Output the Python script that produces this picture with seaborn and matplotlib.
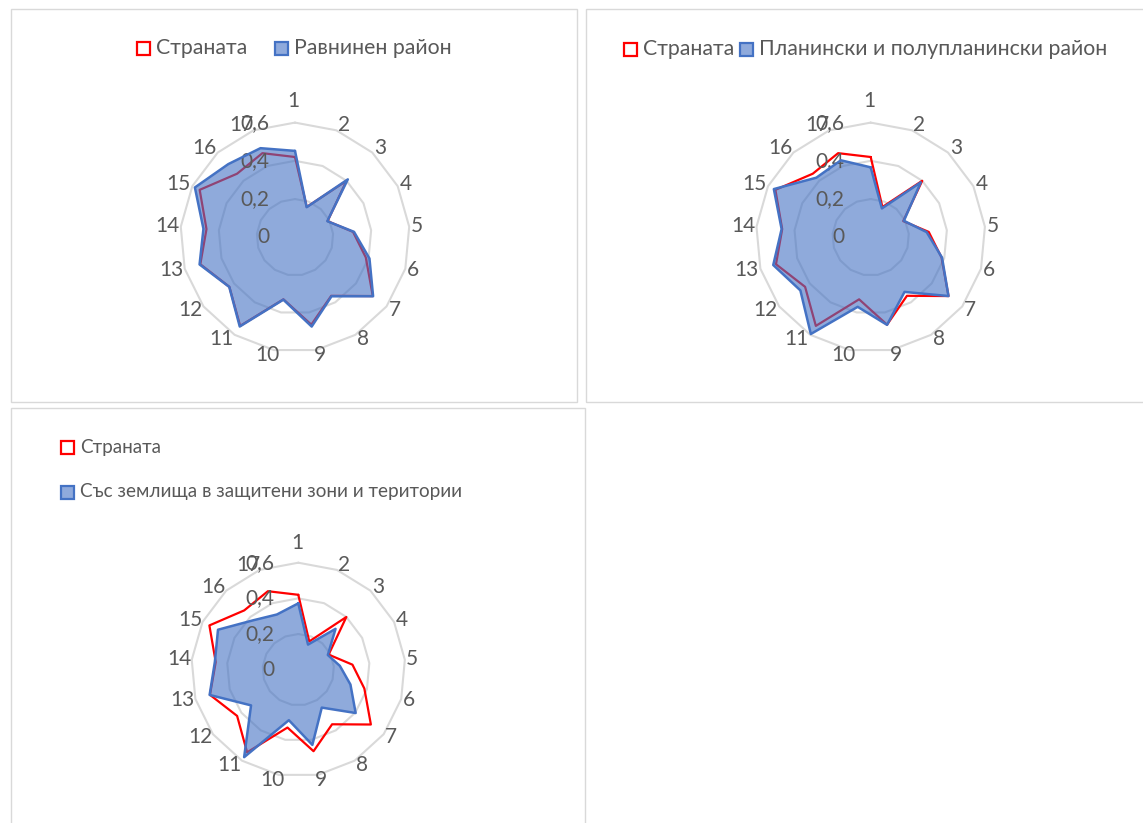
import numpy as np
import matplotlib
matplotlib.use("Agg")
import matplotlib.pyplot as plt
from matplotlib.patches import Rectangle
import seaborn as sns

# ---- data -------------------------------------------------------------
categories = [str(i) for i in range(1, 18)]
country = [0.42, 0.17, 0.40, 0.19, 0.305, 0.385, 0.51, 0.36, 0.465,
           0.33, 0.545, 0.43, 0.515, 0.465, 0.557, 0.45, 0.472]
plain = [0.452, 0.169, 0.41, 0.189, 0.31, 0.405, 0.512, 0.363, 0.475,
         0.332, 0.549, 0.431, 0.519, 0.481, 0.585, 0.518, 0.50]
mountain = [0.366, 0.162, 0.389, 0.194, 0.294, 0.388, 0.51, 0.336, 0.466,
            0.37, 0.595, 0.461, 0.53, 0.468, 0.566, 0.422, 0.432]
protected = [0.372, 0.151, 0.31, 0.185, 0.234, 0.304, 0.403, 0.25, 0.429,
             0.288, 0.577, 0.332, 0.517, 0.47, 0.503, 0.375, 0.332]
radial_ticks = [0, 0.2, 0.4, 0.6]
radial_labels = ["0", "0,2", "0,4", "0,6"]
country_name = "Страната"
region_names = ["Равнинен район",
                "Планински и полупланински район",
                "Със землища в защитени зони и територии"]

# ---- style -------------------------------------------------------------
sns.set_theme(style="white")
plt.rcParams["font.family"] = ["Lato", "Noto Sans", "DejaVu Sans"]
TEXT = "#595959"
GRID = "#D9D9D9"
RED = "#FF0000"
BLUE = "#4472C4"
BLUE_FILL = "#8FAADC"
FS = 15

W, H = 1143, 823
fig = plt.figure(figsize=(W / 100, H / 100), dpi=100)
fig.patch.set_facecolor("white")


def fx(x):
    return x / W


def fy(y):
    return 1 - y / H


# panel frames
for x0, y0, x1, y1 in [(11, 9, 577, 402), (586, 9, 1160, 402), (11, 408, 585, 840)]:
    fig.add_artist(Rectangle((fx(x0), fy(y1)), (x1 - x0) / W, (y1 - y0) / H,
                             transform=fig.transFigure, fill=False,
                             edgecolor=GRID, linewidth=1.0))


def legend_item(x, yc, label, face, edge, size):
    s = 13
    fig.add_artist(Rectangle((fx(x), fy(yc + s / 2)), s / W, s / H,
                             transform=fig.transFigure, facecolor=face,
                             edgecolor=edge, linewidth=1.6))
    fig.text(fx(x + s + 6), fy(yc), label, ha="left", va="center",
             fontsize=size, color=TEXT)


def radar(cx, cy, R, region_values):
    ax = fig.add_axes([fx(cx - R), fy(cy + R), 2 * R / W, 2 * R / H],
                      projection="polar")
    ax.set_theta_zero_location("N")
    ax.set_theta_direction(-1)
    ax.set_facecolor("none")
    ax.set_ylim(0, radial_ticks[-1])
    ax.grid(False)
    ax.set_xticks([])
    ax.set_yticks([])
    ax.spines["polar"].set_visible(False)

    n = len(categories)
    theta = np.arange(n) * 2 * np.pi / n
    theta_c = np.append(theta, theta[0])

    # polygon rings
    for v in radial_ticks[1:]:
        ax.plot(theta_c, [v] * (n + 1), color=GRID, lw=1.5, clip_on=False, zorder=1)

    # country outline
    c_vals = np.append(country, country[0])
    sns.lineplot(x=theta_c, y=c_vals, sort=False, estimator=None, ax=ax,
                 color=RED, lw=1.6, zorder=2)
    for line in ax.lines:
        line.set_clip_on(False)

    # region filled area
    r_vals = np.append(region_values, region_values[0])
    ax.fill(theta_c, r_vals, facecolor=BLUE, alpha=0.6, edgecolor="none",
            zorder=3, clip_on=False)
    ax.plot(theta_c, r_vals, color=BLUE, lw=1.8, zorder=4, clip_on=False)
    ax.set_xlabel("")
    ax.set_ylabel("")

    # category labels, placed next to each outer-ring vertex
    scale = R / 114.7
    for k, (t, lab) in enumerate(zip(theta, categories)):
        s, c = np.sin(t), np.cos(t)
        w = 11 * len(lab)
        if k == 0:
            # first label sits above the value-axis labels
            dx, dy = -1.5, 21.5
        else:
            dx = np.sign(s) * (0.5 * w + 2.5) * min(1.0, 2.5 * abs(s))
            dy = 5.5 * c
        ax.annotate(lab, xy=(t, radial_ticks[-1]),
                    xytext=(dx * scale, dy * scale),
                    textcoords="offset pixels", ha="center", va="center",
                    fontsize=FS, color=TEXT, annotation_clip=False)

    # value labels along the first spoke
    for v, lab in zip(radial_ticks, radial_labels):
        ax.annotate(lab, xy=(0, v), xytext=(-26 * scale, 0),
                    textcoords="offset pixels", ha="right", va="center",
                    fontsize=FS, color=TEXT, annotation_clip=False)
    return ax


radar(295, 237.3, 114.7, plain)
legend_item(137, 48, country_name, "white", RED, 15.3)
legend_item(275, 48, region_names[0], BLUE_FILL, BLUE, 15.3)

radar(870.7, 237.3, 114.7, mountain)
legend_item(624, 49, country_name, "white", RED, 15.3)
legend_item(740, 49, region_names[1], BLUE_FILL, BLUE, 15.3)

radar(298.3, 669.7, 107, protected)
legend_item(61, 447, country_name, "white", RED, 13.6)
legend_item(61, 492, region_names[2], BLUE_FILL, BLUE, 13.6)

fig.savefig("out.png", dpi=100)
